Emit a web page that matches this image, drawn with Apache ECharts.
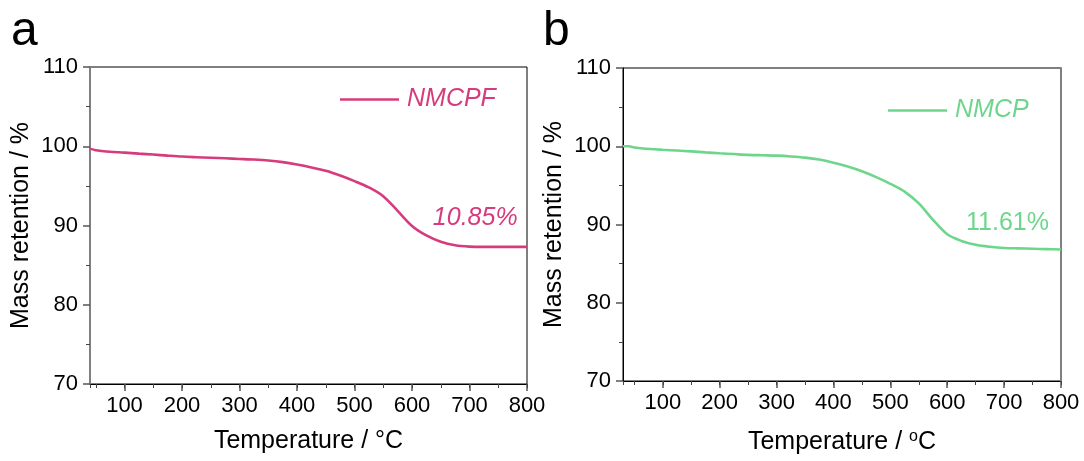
<!DOCTYPE html>
<html>
<head>
<meta charset="utf-8">
<script src="https://cdn.jsdelivr.net/npm/echarts@6/dist/echarts.min.js"></script>
<style>
  html, body { margin: 0; padding: 0; background: #fff; }
  #chart { width: 1084px; height: 461px; }
</style>
</head>
<body>
<div id="chart"></div>
<script>
// TGA curves (temperature in °C, mass retention in %)
const temperatureA = [40, 50, 60, 75, 100, 125, 150, 175, 200, 225, 250, 275, 300, 325, 350, 375, 400, 425, 450, 475, 500, 525, 550, 575, 600, 625, 650, 675, 700, 725, 750, 775, 800];
const massA        = [99.7, 99.5, 99.4, 99.3, 99.2, 99.07, 98.95, 98.82, 98.7, 98.62, 98.55, 98.48, 98.4, 98.32, 98.2, 98.0, 97.7, 97.33, 96.9, 96.3, 95.6, 94.8, 93.7, 91.85, 89.95, 88.75, 87.95, 87.5, 87.33, 87.3, 87.3, 87.3, 87.3];

const temperatureB = [30, 40, 50, 65, 100, 125, 150, 175, 200, 225, 250, 275, 300, 325, 350, 375, 400, 425, 450, 475, 500, 525, 550, 575, 600, 625, 650, 675, 700, 725, 750, 775, 800];
const massB        = [100.0, 100.0, 99.85, 99.72, 99.55, 99.45, 99.35, 99.22, 99.1, 99.0, 98.9, 98.85, 98.8, 98.7, 98.55, 98.3, 97.9, 97.4, 96.8, 96.05, 95.2, 94.2, 92.7, 90.6, 88.75, 87.9, 87.4, 87.15, 87.0, 86.95, 86.9, 86.85, 86.8];

const seriesNames = ['NMCPF', 'NMCP'];
const lossLabels = ['10.85%', '11.61%'];
// where each mass-loss note sits, in data coordinates [°C, %]
const lossAnchorA = [710, 91.0];
const lossAnchorB = [706, 90.2];

const yTicks = { min: 70, max: 110, step: 10 };
const xRangeA = [40, 800];
const xRangeB = [30, 800];

const FONT = '"Liberation Sans", Arial, sans-serif';
const PINK = '#d63c7d';
const GREEN = '#6ed68c';

function zip(xs, ys) { return xs.map((x, i) => [x, ys[i]]); }

function mainX(gridIndex, range, nameRich, gap) {
  return {
    type: 'value', gridIndex, min: range[0], max: range[1], splitNumber: 8,
    position: 'bottom',
    name: nameRich, nameLocation: 'middle', nameGap: gap,
    nameTextStyle: { fontFamily: FONT, fontSize: 25, color: '#000',
      rich: { sup: { fontFamily: FONT, fontSize: 16, color: '#000', verticalAlign: 'top', padding: [0, 0, 10, 0] } } },
    axisLine: { show: true, onZero: false, lineStyle: { color: '#000', width: 1 } },
    axisTick: { show: true, length: 7, lineStyle: { color: '#555', width: 1.5 } },
    axisLabel: { show: true, showMinLabel: false, margin: 11, fontFamily: FONT, fontSize: 22, color: '#000' },
    splitLine: { show: false }
  };
}
function minorX(gridIndex, range) {
  return {
    type: 'value', gridIndex, min: range[0], max: range[1], splitNumber: 16,
    position: 'bottom',
    axisLine: { show: false },
    axisTick: { show: true, length: 4, lineStyle: { color: '#444', width: 1 } },
    axisLabel: { show: false },
    splitLine: { show: false }
  };
}
function mainY(gridIndex, lineColor, lineWidth) {
  return {
    type: 'value', gridIndex, min: yTicks.min, max: yTicks.max, interval: yTicks.step,
    position: 'left',
    name: 'Mass retention / %', nameLocation: 'middle', nameGap: 56,
    nameTextStyle: { fontFamily: FONT, fontSize: 25, color: '#000' },
    axisLine: { show: true, onZero: false, lineStyle: { color: lineColor, width: lineWidth } },
    axisTick: { show: true, length: 7, lineStyle: { color: '#555', width: 1.5 } },
    minorTick: { show: true, splitNumber: 2, length: 4, lineStyle: { color: '#444', width: 1 } },
    axisLabel: { margin: 12, fontFamily: FONT, fontSize: 22, color: '#000' },
    splitLine: { show: false }
  };
}

const option = {
  backgroundColor: '#fff',
  animation: false,
  grid: [
    { left: 90, top: 67, width: 437, height: 317, show: true, borderColor: '#000', borderWidth: 1, backgroundColor: 'transparent' },
    { left: 623, top: 68, width: 438, height: 313, show: true, borderColor: '#000', borderWidth: 1, backgroundColor: 'transparent' }
  ],
  xAxis: [
    mainX(0, xRangeA, 'Temperature / °C', 45),
    minorX(0, xRangeA),
    mainX(1, xRangeB, 'Temperature / {sup|o}C', 48),
    minorX(1, xRangeB)
  ],
  yAxis: [
    mainY(0, '#808080', 2),
    mainY(1, '#000', 1),
    { type: 'value', gridIndex: 1, min: yTicks.min, max: yTicks.max, position: 'right',
      axisLine: { show: true, onZero: false, lineStyle: { color: '#808080', width: 2 } },
      axisTick: { show: false }, axisLabel: { show: false }, splitLine: { show: false } }
  ],
  legend: [
    { data: [seriesNames[0]], left: 340, top: 87, icon: 'rect', itemWidth: 59, itemHeight: 2.5, padding: 0,
      textStyle: { fontFamily: FONT, fontSize: 25, fontStyle: 'italic', color: PINK, padding: [0, 0, 0, 3] } },
    { data: [seriesNames[1]], left: 888, top: 98, icon: 'rect', itemWidth: 59, itemHeight: 2.5, padding: 0,
      textStyle: { fontFamily: FONT, fontSize: 25, fontStyle: 'italic', color: GREEN, padding: [0, 0, 0, 3] } }
  ],
  series: [
    {
      name: seriesNames[0], type: 'line', xAxisIndex: 0, yAxisIndex: 0,
      data: zip(temperatureA, massA), smooth: 0.3, symbol: 'none',
      lineStyle: { color: PINK, width: 2.6 }, itemStyle: { color: PINK },
      markPoint: {
        silent: true, symbol: 'circle', symbolSize: 0,
        label: { show: true, position: 'inside', formatter: lossLabels[0],
          fontFamily: FONT, fontSize: 25, fontStyle: 'italic', color: PINK },
        data: [{ coord: lossAnchorA }]
      }
    },
    {
      name: seriesNames[1], type: 'line', xAxisIndex: 2, yAxisIndex: 1,
      data: zip(temperatureB, massB), smooth: 0.3, symbol: 'none',
      lineStyle: { color: GREEN, width: 2.6 }, itemStyle: { color: GREEN },
      markPoint: {
        silent: true, symbol: 'circle', symbolSize: 0,
        label: { show: true, position: 'inside', formatter: lossLabels[1],
          fontFamily: FONT, fontSize: 25, color: GREEN },
        data: [{ coord: lossAnchorB }]
      }
    }
  ],
  graphic: [
    { type: 'text', left: 11, top: 8, style: { text: 'a', font: '48px "Liberation Sans", Arial, sans-serif', fill: '#000' } },
    { type: 'text', left: 543, top: 8, style: { text: 'b', font: '48px "Liberation Sans", Arial, sans-serif', fill: '#000' } }
  ]
};

const chart = echarts.init(document.getElementById('chart'), null, { renderer: 'canvas' });
chart.setOption(option);
</script>
</body>
</html>
